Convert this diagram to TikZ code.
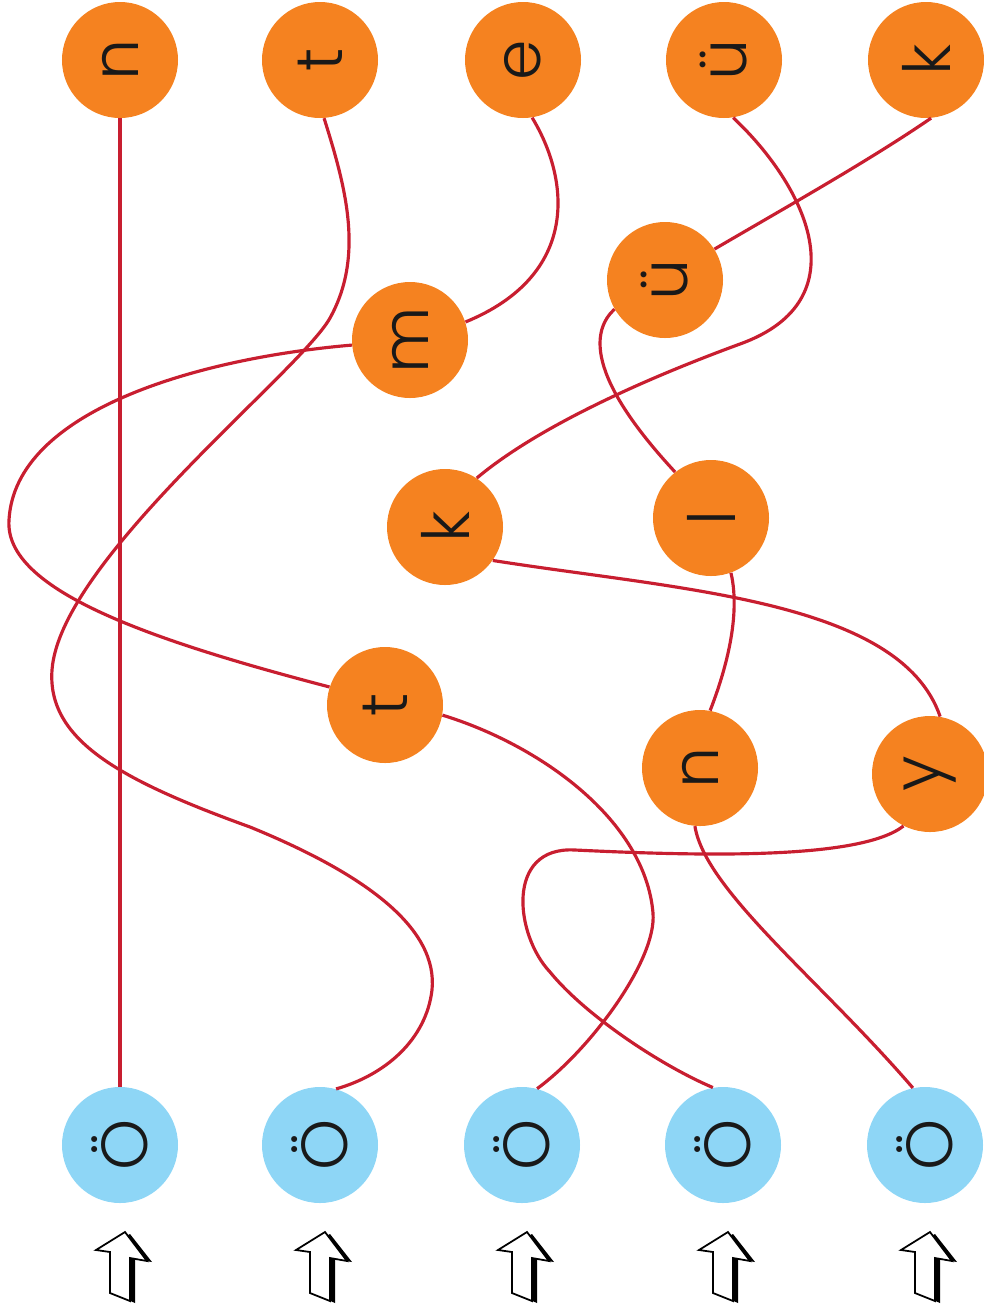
\documentclass[tikz,border=0pt]{standalone}
\usepackage{fontspec}
\setmainfont{Poppins Light}
\usepackage{tikz}
\definecolor{tileorange}{RGB}{245,130,32}
\definecolor{seedblue}{RGB}{142,214,246}
\definecolor{wirered}{RGB}{200,30,48}
\newcommand{\sideways}[1]{\rotatebox{90}{#1}}

\begin{document}
\begin{tikzpicture}[x=0.2mm, y=-0.2mm,
    tile/.style={circle, fill=tileorange, minimum size=23.2mm, inner sep=0pt,
                 text=black!90, font=\fontsize{37}{37}\selectfont},
    seed/.style={tile, fill=seedblue},
    wire/.style={wirered, line width=1.8pt}]
  \useasboundingbox (0,0) rectangle (984,1309);

  \foreach \x/\ch [count=\i] in {120/n, 320/t, 523/e, 724/ü, 926/k} {
    \node[tile] (w\i) at (\x,60) {\sideways{\ch}};
  }
  \foreach \x [count=\i] in {120, 320, 522, 723, 925} {
    \node[seed] (o\i) at (\x,1145) {\sideways{Ö}};
  }

  \node[tile] (uu) at (665,280) {\sideways{ü}};
  \node[tile] (mm) at (410,340) {\sideways{m}};
  \node[tile] (kk) at (445,527) {\sideways{k}};
  \node[tile] (ll) at (711,518) {\sideways{l}};
  \node[tile] (tt) at (385,705) {\sideways{t}};
  \node[tile] (nn) at (700,768) {\sideways{n}};
  \node[tile] (yy) at (930,774) {\sideways{y}};

  \draw[wire] (w1) -- (o1);
  \draw[wire] (w2.-86) .. controls (345,185) and (365,255) .. (330,318)
              .. controls (300,372) and (60,560) .. (52,670)
              .. controls (47,740) and (120,780) .. (250,827)
              .. controls (370,876) and (438,930) .. (432,990)
              .. controls (426,1040) and (385,1075) .. (o2.74);
  \draw[wire] (w3.-81) .. controls (570,180) and (580,275) .. (mm.18);
  \draw[wire] (w4.-81) .. controls (805,185) and (862,300) .. (740,344)
              .. controls (650,377) and (540,425) .. (kk.57);
  \draw[wire] (w5.-85) .. controls (870,160) and (790,205) .. (uu.32);
  \draw[wire] (uu.210) .. controls (592,330) and (585,375) .. (ll.128);
  \draw[wire] (mm.185) .. controls (200,358) and (15,410) .. (9,520)
              .. controls (4,590) and (150,640) .. (tt.162);
  \draw[wire] (ll.-70) .. controls (742,620) and (722,680) .. (nn.80);
  \draw[wire] (kk.-35) .. controls (680,590) and (900,600) .. (yy.80);
  \draw[wire] (tt.-10) .. controls (540,745) and (645,820) .. (653,913)
              .. controls (657,960) and (590,1050) .. (o3.75);
  \draw[wire] (yy.-117) .. controls (860,860) and (700,856) .. (575,850)
              .. controls (505,846) and (515,935) .. (550,972)
              .. controls (585,1015) and (660,1065) .. (o4.100);
  \draw[wire] (nn.-95) .. controls (705,890) and (820,980) .. (o5.102);

  \foreach \x in {122, 322, 524, 725, 927} {
    \begin{scope}[shift={(\x,0)}]
      \fill[black] (8,1234) -- (-21,1250) -- (-7,1252) -- (-7,1294) -- (13,1303)
                   -- (13,1259) -- (30,1262) -- cycle;
      \filldraw[fill=white, draw=black, line width=1pt] (3,1232) -- (-26,1250) -- (-12,1252)
                   -- (-12,1293) -- (8,1301) -- (8,1258) -- (25,1261) -- cycle;
    \end{scope}
  }
\end{tikzpicture}
\end{document}
